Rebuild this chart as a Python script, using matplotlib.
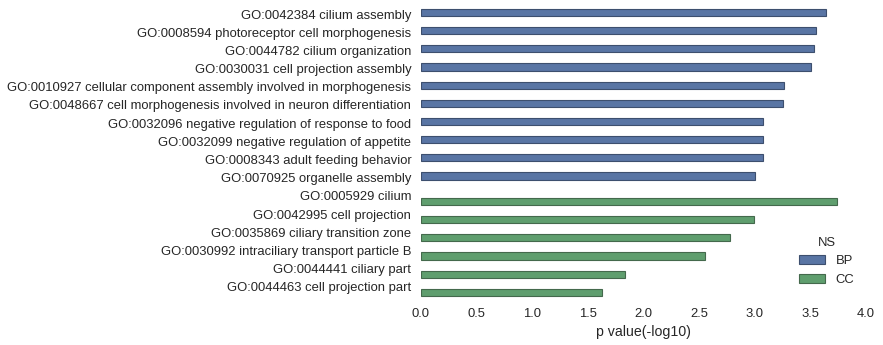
import matplotlib
matplotlib.use("Agg")
import matplotlib.pyplot as plt
import matplotlib.transforms as mtransforms
import numpy as np

# GO terms, their namespace and -log10 p values
terms = [
    "GO:0042384 cilium assembly",
    "GO:0008594 photoreceptor cell morphogenesis",
    "GO:0044782 cilium organization",
    "GO:0030031 cell projection assembly",
    "GO:0010927 cellular component assembly involved in morphogenesis",
    "GO:0048667 cell morphogenesis involved in neuron differentiation",
    "GO:0032096 negative regulation of response to food",
    "GO:0032099 negative regulation of appetite",
    "GO:0008343 adult feeding behavior",
    "GO:0070925 organelle assembly",
    "GO:0005929 cilium",
    "GO:0042995 cell projection",
    "GO:0035869 ciliary transition zone",
    "GO:0030992 intraciliary transport particle B",
    "GO:0044441 ciliary part",
    "GO:0044463 cell projection part",
]
namespace = ["BP"] * 10 + ["CC"] * 6
pvals = [3.64, 3.55, 3.53, 3.51, 3.26, 3.25, 3.07, 3.07, 3.07, 3.00,
         3.74, 2.99, 2.78, 2.55, 1.83, 1.63]

ns_levels = ["BP", "CC"]
colors = {"BP": "#5975a4", "CC": "#5f9e6e"}
edges = {"BP": "#3d4f6e", "CC": "#44694c"}

plt.rcParams['font.family'] = ['Liberation Sans', 'DejaVu Sans']

fig = plt.figure(figsize=(8.83, 3.45), dpi=100)
ax = fig.add_axes([421 / 883, 1 - 297.8 / 345, 445 / 883, (297.8 - 7.0) / 345])

y = np.arange(len(terms))
pv = np.array(pvals)
ns = np.array(namespace)
width = 0.8 / len(ns_levels)
for i, level in enumerate(ns_levels):
    mask = ns == level
    offset = -0.4 + width * (i + 0.5)
    ax.barh(y[mask] + offset, pv[mask], height=width, color=colors[level],
            edgecolor=edges[level], linewidth=0.8, label=level)

ax.set_yticks(y)
ax.set_yticklabels(terms)
ax.set_ylim(len(terms) - 0.5, -0.5)
ax.set_xlim(0, 4.0)
ax.set_xticks(np.arange(0, 4.01, 0.5))
ax.set_xlabel("p value(-log10)", fontsize=10.2, color="#262626")
ax.tick_params(axis="both", length=0, pad=7, labelsize=9.4, colors="#262626")
for s in ax.spines.values():
    s.set_visible(False)

# nudge y labels up a little, as in the original
shift = mtransforms.ScaledTranslation(0, 2 / 100, fig.dpi_scale_trans)
for lab in ax.get_yticklabels():
    lab.set_transform(lab.get_transform() + shift)

leg = ax.legend(title="NS", loc="lower right", frameon=False, fontsize=9.4,
                title_fontsize=9.4)
for t in leg.get_texts():
    t.set_color("#262626")
leg.get_title().set_color("#262626")

fig.savefig("out.png", dpi=100)
